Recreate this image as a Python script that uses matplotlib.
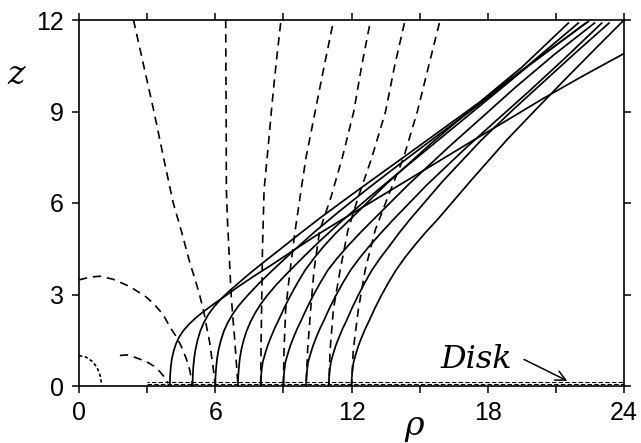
import matplotlib
matplotlib.use("Agg")
import matplotlib.pyplot as plt

# ---------------- data ----------------
# solid curves, labelled by foot radius on the disk
c4_x = [4.0, 4.01, 4.04, 4.09, 4.17, 4.28, 4.42, 4.6, 4.85, 5.15, 5.5, 5.9, 6.4, 7.0, 7.7, 8.5,
        9.35, 10.37, 11.5, 12.8, 14.2, 15.8, 17.4, 19.0, 20.45, 22.2, 24.0]
c4_z = [0, 0.3, 0.6, 0.9, 1.15, 1.4, 1.62, 1.82, 2.03, 2.24, 2.45, 2.67, 2.93, 3.25, 3.6, 3.98,
        4.4, 4.9, 5.42, 6.0, 6.63, 7.35, 8.07, 8.78, 9.43, 10.17, 10.9]
c5_x = [5.0, 5.01, 5.03, 5.07, 5.13, 5.22, 5.34, 5.5, 5.7, 5.95, 6.25, 6.6, 7.0, 7.5, 8.1, 8.8,
        9.7, 10.6, 11.6, 12.8, 14.2, 15.87, 17.63, 19.5, 21.55]
c5_z = [0, 0.3, 0.6, 0.9, 1.2, 1.5, 1.8, 2.08, 2.35, 2.6, 2.85, 3.1, 3.36, 3.68, 4.04, 4.45,
        4.98, 5.5, 6.05, 6.7, 7.45, 8.35, 9.3, 10.45, 11.9]
c6_x = [6.0, 6.01, 6.04, 6.08, 6.15, 6.25, 6.38, 6.55, 6.78, 7.05, 7.4, 7.88, 8.5, 9.35, 10.37,
        11.5, 12.8, 14.2, 15.8, 17.6, 19.6, 21.99]
c6_z = [0, 0.3, 0.6, 0.9, 1.2, 1.5, 1.8, 2.08, 2.37, 2.65, 2.95, 3.33, 3.78, 4.37, 5.05,
        5.75, 6.52, 7.32, 8.22, 9.22, 10.4, 11.9]
c7_x = [7.0, 7.01, 7.04, 7.08, 7.15, 7.25, 7.38, 7.55, 7.76, 8.0, 8.3, 8.7, 9.2, 9.8, 10.6,
        11.6, 12.8, 14.2, 15.8, 17.6, 19.8, 22.31]
c7_z = [0, 0.3, 0.6, 0.9, 1.2, 1.5, 1.8, 2.1, 2.4, 2.68, 2.98, 3.33, 3.72, 4.17, 4.75,
        5.43, 6.2, 7.07, 8.05, 9.15, 10.5, 11.9]
c8_x = [8.0, 8.01, 8.04, 8.09, 8.2, 8.31, 8.45, 8.61, 8.79, 9.03, 9.3, 9.62, 9.96, 10.36,
        10.8, 11.32, 11.91, 13.5, 15.5, 17.0, 18.6, 20.5, 22.43]
c8_z = [0, 0.25, 0.5, 0.78, 1.07, 1.33, 1.6, 1.88, 2.16, 2.55, 2.95, 3.38, 3.8, 4.2,
        4.6, 5.02, 5.44, 6.6, 7.95, 8.9, 9.85, 10.9, 11.95]
c9_x = [9.0, 9.01, 9.04, 9.09, 9.2, 9.31, 9.45, 9.61, 9.79, 10.03, 10.3, 10.62, 10.96, 11.38,
        11.85, 12.38, 12.94, 14.5, 16.3, 17.7, 19.2, 20.9, 22.7]
c9_z = [0, 0.25, 0.5, 0.78, 1.07, 1.33, 1.6, 1.88, 2.16, 2.55, 2.95, 3.38, 3.8, 4.2,
        4.6, 5.02, 5.44, 6.6, 7.85, 8.78, 9.78, 10.85, 11.9]
c10_x = [10.0, 10.01, 10.04, 10.09, 10.2, 10.31, 10.45, 10.61, 10.79, 11.03, 11.3, 11.62,
         11.96, 12.36, 12.8, 13.3, 13.82, 15.3, 17.0, 18.4, 19.8, 21.4, 23.02]
c10_z = [0, 0.25, 0.5, 0.78, 1.07, 1.33, 1.6, 1.88, 2.16, 2.55, 2.95, 3.38,
         3.8, 4.2, 4.6, 5.02, 5.44, 6.58, 7.78, 8.72, 9.65, 10.75, 11.9]
c11_x = [11.0, 11.01, 11.04, 11.09, 11.2, 11.31, 11.45, 11.61, 11.79, 12.02, 12.28, 12.58,
         12.9, 13.27, 13.68, 14.1, 14.55, 16.0, 17.7, 19.1, 20.5, 21.9, 23.34]
c11_z = [0, 0.25, 0.5, 0.78, 1.07, 1.33, 1.6, 1.88, 2.16, 2.55, 2.95, 3.38,
         3.8, 4.2, 4.6, 5.02, 5.44, 6.7, 8.05, 9.05, 10.0, 10.95, 11.9]
c12_x = [12.0, 12.01, 12.04, 12.09, 12.2, 12.31, 12.45, 12.61, 12.79, 13.03, 13.3, 13.62,
         13.96, 14.36, 14.8, 15.28, 15.79, 17.3, 18.84, 20.1, 21.4, 22.7, 24.0]
c12_z = [0, 0.25, 0.5, 0.78, 1.07, 1.33, 1.6, 1.88, 2.16, 2.55, 2.95, 3.38,
         3.8, 4.22, 4.63, 5.05, 5.46, 6.77, 8.07, 9.05, 10.05, 11.03, 12.0]

# dashed curves
d1_x = [2.4, 2.85, 3.3, 3.72, 4.15, 4.5, 4.89, 5.13, 5.33, 5.5, 5.62, 5.75, 5.84, 5.93, 6.0]
d1_z = [12.0, 10.5, 9.0, 7.5, 6.0, 5.1, 4.02, 3.45, 2.93, 2.42, 1.94, 1.45, 0.96, 0.48, 0.0]
d2_x = [6.46, 6.47, 6.48, 6.49, 6.54, 6.6, 6.7, 6.78, 6.86, 6.93, 7.0]
d2_z = [12.0, 10.5, 9.0, 6.43, 5.4, 4.5, 3.0, 2.2, 1.5, 0.75, 0.0]
d3_x = [8.88, 8.73, 8.6, 8.47, 8.35, 8.15, 8.08, 8.05, 8.02, 8.0]
d3_z = [11.9, 10.9, 10.0, 9.0, 8.0, 6.43, 4.5, 3.0, 1.5, 0.0]
d4_x = [11.16, 10.8, 10.4, 10.0, 9.78, 9.5, 9.25, 9.1, 9.03, 9.0]
d4_z = [11.8, 10.5, 9.0, 7.5, 6.43, 5.0, 3.5, 2.5, 1.2, 0.0]
d5_x = [12.79, 12.45, 12.1, 11.6, 11.1, 10.6, 10.35, 10.2, 10.07, 10.0]
d5_z = [11.8, 10.5, 9.0, 7.5, 6.2, 5.1, 3.8, 2.5, 1.2, 0.0]
d6_x = [14.33, 13.9, 13.5, 12.9, 12.3, 11.84, 11.5, 11.2, 11.06, 11.0]
d6_z = [11.9, 10.5, 9.0, 7.5, 6.2, 5.1, 3.8, 2.5, 1.2, 0.0]
d7_x = [15.87, 15.4, 14.9, 14.3, 13.6, 13.04, 12.6, 12.3, 12.08, 12.0]
d7_z = [11.9, 10.5, 9.0, 7.5, 6.2, 5.1, 3.8, 2.5, 1.2, 0.0]
arc_big_x = [0.0, 0.5, 0.92, 1.5, 2.24, 2.94, 3.27, 3.7, 4.0, 4.3, 4.51, 4.72, 4.88, 5.0]
arc_big_z = [3.48, 3.57, 3.6, 3.5, 3.26, 2.93, 2.71, 2.35, 1.94, 1.6, 1.29, 0.9, 0.52, 0.0]
arc_small_x = [1.8, 2.1, 2.39, 2.97, 3.3, 3.56, 3.75, 3.93]
arc_small_z = [1.0, 1.02, 0.96, 0.8, 0.65, 0.47, 0.3, 0.09]
dot_x = [0.0, 0.3, 0.6, 0.8, 0.95, 1.0]
dot_z = [1.0, 0.95, 0.8, 0.6, 0.3, 0.0]

disk_x = [3.0, 24.0]
disk_z1 = [0.06, 0.06]
disk_z2 = [0.13, 0.13]

x_ticks = [0, 3, 6, 9, 12, 15, 18, 21, 24]
x_labels = ["0", "", "6", "", "12", "", "18", "", "24"]
y_ticks = [0, 3, 6, 9, 12]
y_labels = ["0", "3", "6", "9", "12"]

# ---------------- figure ----------------
fig = plt.figure(figsize=(6.41, 4.43), dpi=100)
ax = fig.add_axes([79 / 641, 1 - 386 / 443, 545 / 641, 366 / 443])

solid = [(c4_x, c4_z), (c5_x, c5_z), (c6_x, c6_z), (c7_x, c7_z), (c8_x, c8_z),
         (c9_x, c9_z), (c10_x, c10_z), (c11_x, c11_z), (c12_x, c12_z)]
for xs, zs in solid:
    ax.plot(xs, zs, color="black", lw=1.25, solid_joinstyle="round")

dashed = [(d1_x, d1_z), (d2_x, d2_z), (d3_x, d3_z), (d4_x, d4_z), (d5_x, d5_z),
          (d6_x, d6_z), (d7_x, d7_z), (arc_big_x, arc_big_z), (arc_small_x, arc_small_z)]
for xs, zs in dashed:
    ax.plot(xs, zs, color="black", lw=1.2, linestyle=(0, (5, 3.5)))

ax.plot(dot_x, dot_z, color="black", lw=1.2, linestyle=(0, (2, 1.5)))

ax.plot(disk_x, disk_z1, color="black", lw=0.8, linestyle=(0, (4, 2)))
ax.plot(disk_x, disk_z2, color="black", lw=0.8, linestyle=(2, (4, 2)))

ax.text(15.9, 0.58, "Disk", fontsize=23, family="DejaVu Serif", style="italic",
        ha="left", va="baseline")
ax.annotate("", xy=(21.5, 0.17), xytext=(19.6, 0.87),
            arrowprops=dict(arrowstyle="->", color="black", lw=1.1,
                            mutation_scale=18, shrinkA=0, shrinkB=0))

ax.set_xlim(0, 24)
ax.set_ylim(0, 12)
ax.set_xticks(x_ticks)
ax.set_xticklabels(x_labels)
ax.set_yticks(y_ticks)
ax.set_yticklabels(y_labels)
for lab in ax.get_xticklabels() + ax.get_yticklabels():
    lab.set_fontfamily("Liberation Sans")
    lab.set_fontsize(18)
ax.tick_params(direction="out", length=5, width=1.1, top=True, right=True,
               pad=6)
for s in ax.spines.values():
    s.set_linewidth(1.2)

ax.text(-0.115, 0.85, "z", transform=ax.transAxes, fontsize=24,
        family="DejaVu Serif", style="italic", ha="center", va="center")
ax.text(0.615, -0.11, "\u03c1", transform=ax.transAxes, fontsize=24,
        family="DejaVu Serif", style="italic", ha="center", va="center")

fig.savefig("out.png", dpi=100)
